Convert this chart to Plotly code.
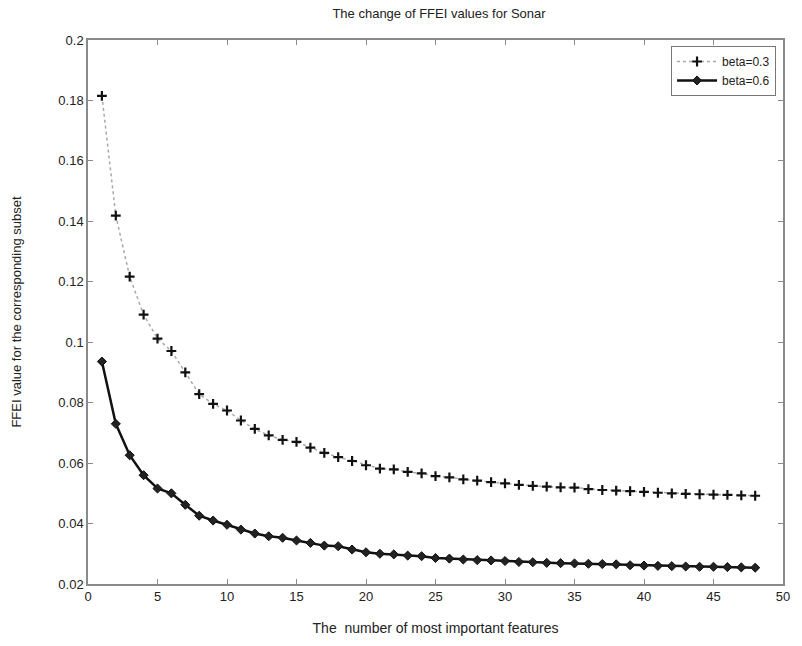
import plotly.graph_objects as go

features = list(range(1, 49))

beta_03 = [0.1815, 0.1419, 0.1217, 0.1091, 0.1012, 0.0971, 0.0900, 0.0828, 0.0796, 0.0774,
           0.0741, 0.0713, 0.0692, 0.0677, 0.0670, 0.0651, 0.0634, 0.0620, 0.0607, 0.0593,
           0.0582, 0.0579, 0.0571, 0.0566, 0.0557, 0.0553, 0.0546, 0.0542, 0.0537, 0.0533,
           0.0528, 0.0525, 0.0522, 0.0520, 0.0519, 0.0514, 0.0511, 0.0509, 0.0507, 0.0505,
           0.0502, 0.0500, 0.0498, 0.0497, 0.0496, 0.0495, 0.0493, 0.0492]

beta_06 = [0.0936, 0.0730, 0.0626, 0.0560, 0.0516, 0.0500, 0.0462, 0.0426, 0.0410, 0.0396,
           0.0380, 0.0367, 0.0358, 0.0353, 0.0344, 0.0336, 0.0327, 0.0325, 0.0314, 0.0305,
           0.0300, 0.0298, 0.0294, 0.0292, 0.0286, 0.0284, 0.0281, 0.0279, 0.0278, 0.0276,
           0.0273, 0.0272, 0.0270, 0.0269, 0.0268, 0.0267, 0.0266, 0.0265, 0.0262, 0.0261,
           0.0260, 0.0259, 0.0258, 0.0257, 0.0257, 0.0256, 0.0255, 0.0254]

x_ticks = [0, 5, 10, 15, 20, 25, 30, 35, 40, 45, 50]
y_ticks = [0.02, 0.04, 0.06, 0.08, 0.1, 0.12, 0.14, 0.16, 0.18, 0.2]
y_tick_labels = ["0.02", "0.04", "0.06", "0.08", "0.1", "0.12", "0.14", "0.16", "0.18", "0.2"]

FONT = "Liberation Sans, Arial, sans-serif"
TXT = "#222222"
AX = "#8a8a8a"

fig = go.Figure()
fig.add_trace(go.Scatter(
    x=features, y=beta_03, name="beta=0.3", mode="lines+markers",
    line=dict(color="#a8a8a8", width=1.5, dash="dot"),
    marker=dict(symbol="cross-thin", size=7, line=dict(color="#111", width=2.2)),
))
fig.add_trace(go.Scatter(
    x=features, y=beta_06, name="beta=0.6", mode="lines+markers",
    line=dict(color="#111", width=2.5),
    marker=dict(symbol="diamond", size=7, color="#222", line=dict(color="#111", width=1)),
))

axis_common = dict(
    showline=True, linecolor=AX, linewidth=1.5, mirror="ticks",
    ticks="inside", ticklen=5, tickcolor=AX, tickwidth=1,
    showgrid=False, zeroline=False,
    tickfont=dict(family=FONT, size=13, color=TXT),
)

fig.update_layout(
    width=802, height=646,
    margin=dict(l=88, r=12, t=40, b=60),
    paper_bgcolor="white", plot_bgcolor="white",
    title=dict(text="The change of FFEI values for Sonar", x=0.5 * (88 + 790) / 802, xanchor="center",
               y=1 - 13 / 646, yanchor="middle",
               font=dict(family=FONT, size=13, color=TXT)),
    xaxis=dict(range=[0, 50], tickvals=x_ticks,
               title=dict(text="The\u00a0 number of most important features", standoff=20,
                          font=dict(family=FONT, size=14, color=TXT)),
               **axis_common),
    yaxis=dict(range=[0.02, 0.2], tickvals=y_ticks, ticktext=y_tick_labels,
               title=dict(text="FFEI value for the corresponding subset", standoff=34,
                          font=dict(family=FONT, size=13, color=TXT)),
               **axis_common),
    legend=dict(x=0.99, y=0.989, xanchor="right", yanchor="top",
                bordercolor="#777", borderwidth=1, bgcolor="white",
                font=dict(family=FONT, size=12, color=TXT),
                tracegroupgap=0, itemwidth=40),
    showlegend=True,
)

fig.write_html("out.html")
